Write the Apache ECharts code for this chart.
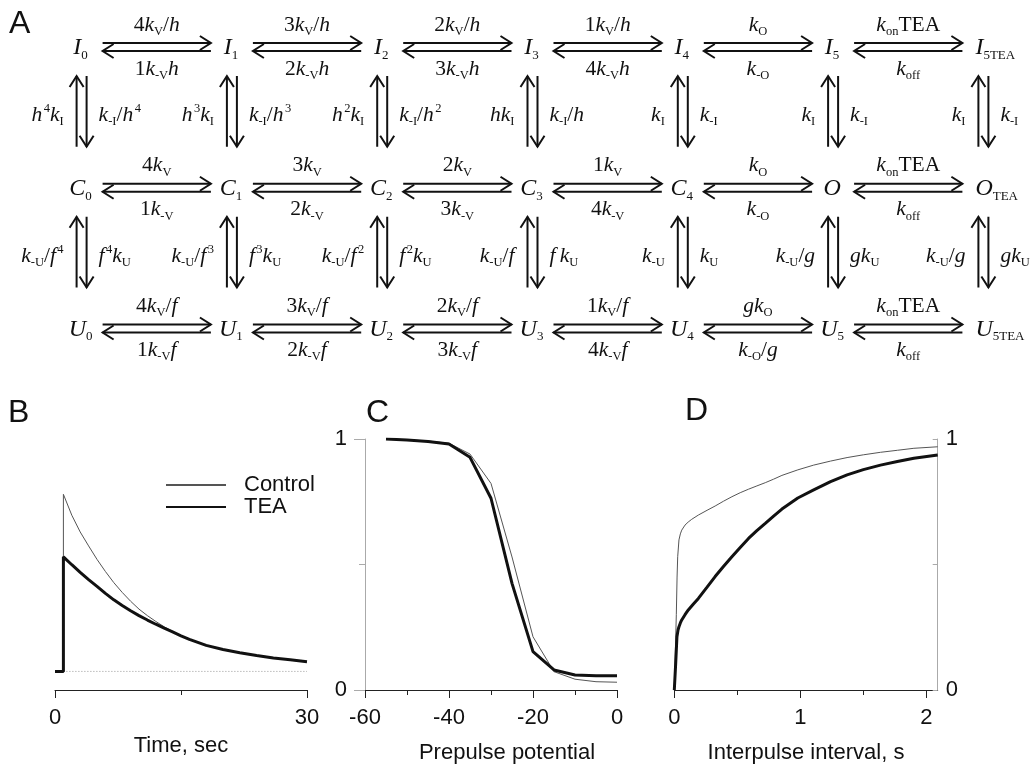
<!DOCTYPE html>
<html>
<head>
<meta charset="utf-8">
<script src="https://cdn.jsdelivr.net/npm/echarts@6.0.0/dist/echarts.min.js"></script>
<style>
html,body{margin:0;padding:0;background:#fff;}
#chart{width:1036px;height:769px;}
</style>
</head>
<body>
<div id="chart"></div>
<script>
// ---------------- Panel A : kinetic scheme (text) ----------------
const stateRows = [
  ['I_0', 'I_1', 'I_2', 'I_3', 'I_4', 'I_5', 'I_{5TEA}'],
  ['C_0', 'C_1', 'C_2', 'C_3', 'C_4', 'O', 'O_{TEA}'],
  ['U_0', 'U_1', 'U_2', 'U_3', 'U_4', 'U_5', 'U_{5TEA}']
];
const forwardRates = [
  ['4k_V/h', '3k_V/h', '2k_V/h', '1k_V/h', 'k_O', 'k_{on}TEA'],
  ['4k_V', '3k_V', '2k_V', '1k_V', 'k_O', 'k_{on}TEA'],
  ['4k_V/f', '3k_V/f', '2k_V/f', '1k_V/f', 'gk_O', 'k_{on}TEA']
];
const backwardRates = [
  ['1k_{-V}h', '2k_{-V}h', '3k_{-V}h', '4k_{-V}h', 'k_{-O}', 'k_{off}'],
  ['1k_{-V}', '2k_{-V}', '3k_{-V}', '4k_{-V}', 'k_{-O}', 'k_{off}'],
  ['1k_{-V}f', '2k_{-V}f', '3k_{-V}f', '4k_{-V}f', 'k_{-O}/g', 'k_{off}']
];
const upRates = [
  ['h^4k_I', 'h^3k_I', 'h^2k_I', 'hk_I', 'k_I', 'k_I', 'k_I'],
  ['k_{-U}/f^4', 'k_{-U}/f^3', 'k_{-U}/f^2', 'k_{-U}/f', 'k_{-U}', 'k_{-U}/g', 'k_{-U}/g']
];
const downRates = [
  ['k_{-I}/h^4', 'k_{-I}/h^3', 'k_{-I}/h^2', 'k_{-I}/h', 'k_{-I}', 'k_{-I}', 'k_{-I}'],
  ['f^4k_U', 'f^3k_U', 'f^2k_U', 'f\u2009k_U', 'k_U', 'gk_U', 'gk_U']
];

// ---------------- Panel B : time course ----------------
const bTime    = [0, 1, 1, 2, 3, 4, 5, 6, 7, 8, 9, 10, 11, 12, 13, 14, 15, 16, 18, 20, 22, 24, 26, 28, 30];
const bControl = [0, 0, 0.762, 0.672, 0.600, 0.540, 0.482, 0.430, 0.382, 0.340, 0.302, 0.268, 0.240, 0.215, 0.192, 0.172, 0.154, 0.138, 0.112, 0.094, 0.080, 0.068, 0.058, 0.050, 0.042];
const bTEA     = [0, 0, 0.493, 0.459, 0.426, 0.395, 0.366, 0.336, 0.308, 0.284, 0.261, 0.240, 0.221, 0.203, 0.186, 0.170, 0.153, 0.138, 0.112, 0.094, 0.080, 0.068, 0.058, 0.050, 0.042];
const bBaselineTime  = [1, 30];
const bBaselineValue = [0, 0];
const bMajorTicks = [0, 30];
const bMinorTicks = [15];

// ---------------- Panel C : prepulse potential ----------------
const cVoltage = [-55, -50, -45, -40, -35, -30, -25, -20, -15, -10, -5, 0];
const cControl = [1.000, 0.997, 0.992, 0.983, 0.940, 0.823, 0.530, 0.212, 0.073, 0.043, 0.033, 0.031];
const cTEA     = [1.000, 0.996, 0.990, 0.980, 0.927, 0.764, 0.425, 0.153, 0.080, 0.060, 0.057, 0.057];
const cMajorTicks = [-60, -40, -20, 0];
const cMinorTicks = [-50, -30, -10];

// ---------------- Panel D : interpulse interval ----------------
const dControlX = [0, 0.016, 0.022, 0.027, 0.037, 0.048, 0.059, 0.085, 0.110, 0.138, 0.191, 0.260, 0.324, 0.390, 0.457, 0.523, 0.589, 0.655, 0.722, 0.788, 0.854, 0.980, 1.106, 1.240, 1.371, 1.500, 1.636, 1.770, 1.901, 2.090];
const dControlY = [0, 0.300, 0.450, 0.531, 0.598, 0.622, 0.637, 0.657, 0.669, 0.680, 0.697, 0.716, 0.733, 0.752, 0.770, 0.786, 0.800, 0.813, 0.826, 0.840, 0.855, 0.877, 0.896, 0.912, 0.926, 0.937, 0.947, 0.955, 0.963, 0.969];
const dTEAX = [0, 0.011, 0.021, 0.030, 0.037, 0.048, 0.059, 0.085, 0.111, 0.150, 0.191, 0.260, 0.324, 0.390, 0.457, 0.523, 0.589, 0.655, 0.722, 0.788, 0.854, 0.980, 1.106, 1.240, 1.371, 1.500, 1.636, 1.770, 1.901, 2.090];
const dTEAY = [0, 0.106, 0.212, 0.240, 0.252, 0.267, 0.279, 0.300, 0.319, 0.342, 0.365, 0.410, 0.452, 0.492, 0.531, 0.568, 0.604, 0.635, 0.664, 0.693, 0.721, 0.765, 0.797, 0.830, 0.857, 0.878, 0.896, 0.910, 0.923, 0.936];
const dMajorTicks = [0, 1, 2];
const dMinorTicks = [0.5, 1.5];

const yMajorTicks = [0, 1];
const yMinorTicks = [0.5];

// ---------------- helpers ----------------
const SANS = '"Liberation Sans", Arial, Helvetica, sans-serif';
const SERIF = '"Liberation Serif", "Times New Roman", serif';
const INK = '#111';
const THIN = '#555';

const ITALIC = 'khfgICUO';
function toRich(s, p) {
  let out = '', i = 0;
  while (i < s.length) {
    const ch = s[i];
    if (ch === '_' || ch === '^') {
      let t;
      if (s[i + 1] === '{') { const j = s.indexOf('}', i); t = s.slice(i + 2, j); i = j + 1; }
      else { t = s[i + 1]; i += 2; }
      out += '{' + p + (ch === '_' ? 'Sb' : 'Sp') + '|' + t + '}';
    } else {
      const it = ITALIC.includes(ch);
      let j = i;
      while (j < s.length && s[j] !== '_' && s[j] !== '^' && ITALIC.includes(s[j]) === it) j++;
      out += '{' + p + (it ? 'It' : 'Rm') + '|' + s.slice(i, j) + '}';
      i = j;
    }
  }
  return out;
}
const rich = {
  rIt: {fontFamily: SERIF, fontStyle: 'italic', fontSize: 21.5, lineHeight: 26, verticalAlign: 'middle', color: INK},
  rRm: {fontFamily: SERIF, fontSize: 21.5, lineHeight: 26, verticalAlign: 'middle', color: INK},
  rSb: {fontFamily: SERIF, fontSize: 12.5, lineHeight: 12, verticalAlign: 'bottom', color: INK},
  rSp: {fontFamily: SERIF, fontSize: 12.5, lineHeight: 16, verticalAlign: 'top', color: INK, padding: [0, 0, 0, 1.5]},
  sIt: {fontFamily: SERIF, fontStyle: 'italic', fontSize: 24, lineHeight: 28, verticalAlign: 'middle', color: INK},
  sRm: {fontFamily: SERIF, fontSize: 24, lineHeight: 28, verticalAlign: 'middle', color: INK},
  sSb: {fontFamily: SERIF, fontSize: 13, lineHeight: 13, verticalAlign: 'bottom', color: INK},
  sSp: {fontFamily: SERIF, fontSize: 13, lineHeight: 18, verticalAlign: 'top', color: INK}
};

// scheme label items (positions are scheme grid indices)
const schemeItems = [];
stateRows.forEach((row, r) => row.forEach((t, c) => schemeItems.push(
  {v: [c, r], text: t, p: 's', align: c === row.length - 1 ? 'left' : 'center', dx: c === row.length - 1 ? -8 : -1, dy: 1})));
forwardRates.forEach((row, r) => row.forEach((t, c) => schemeItems.push(
  {v: [c + 0.5, r], text: t, p: 'r', align: 'center', dx: 0, dy: -22})));
backwardRates.forEach((row, r) => row.forEach((t, c) => schemeItems.push(
  {v: [c + 0.5, r], text: t, p: 'r', align: 'center', dx: 0, dy: 22})));
upRates.forEach((row, r) => row.forEach((t, c) => schemeItems.push(
  {v: [c, r + 0.5], text: t, p: 'r', align: 'right', dx: -18, dy: -2})));
downRates.forEach((row, r) => row.forEach((t, c) => schemeItems.push(
  {v: [c, r + 0.5], text: t, p: 'r', align: 'left', dx: 17, dy: -2})));

const hArrowData = [];
forwardRates.forEach((row, r) => row.forEach((t, c) => hArrowData.push([c, r])));
const vArrowData = [];
upRates.forEach((row, r) => row.forEach((t, c) => vArrowData.push([c, r])));

const arrowStyle = {stroke: '#111', lineWidth: 2, fill: null, lineJoin: 'miter'};

function renderHArrow(params, api) {
  const c = api.value(0), r = api.value(1);
  const a = api.coord([c, r]), b = api.coord([c + 1, r]);
  const x1 = a[0] + 21, x2 = b[0] - 21, yu = a[1] - 4, yl = a[1] + 4;
  return {type: 'group', children: [
    {type: 'line', shape: {x1: x1, y1: yu, x2: x2, y2: yu}, style: arrowStyle},
    {type: 'polyline', shape: {points: [[x2 - 11, yu - 7], [x2, yu], [x2 - 11, yu + 7]]}, style: arrowStyle},
    {type: 'line', shape: {x1: x1, y1: yl, x2: x2, y2: yl}, style: arrowStyle},
    {type: 'polyline', shape: {points: [[x1 + 11, yl - 7], [x1, yl], [x1 + 11, yl + 7]]}, style: arrowStyle}
  ]};
}
function renderVArrow(params, api) {
  const c = api.value(0), r = api.value(1);
  const a = api.coord([c, r]), b = api.coord([c, r + 1]);
  const y1 = a[1] + 29, y2 = b[1] - 41, xu = a[0] - 5, xd = a[0] + 5;
  return {type: 'group', children: [
    {type: 'line', shape: {x1: xu, y1: y1, x2: xu, y2: y2}, style: arrowStyle},
    {type: 'polyline', shape: {points: [[xu - 7, y1 + 11], [xu, y1], [xu + 7, y1 + 11]]}, style: arrowStyle},
    {type: 'line', shape: {x1: xd, y1: y1, x2: xd, y2: y2}, style: arrowStyle},
    {type: 'polyline', shape: {points: [[xd - 7, y2 - 11], [xd, y2], [xd + 7, y2 - 11]]}, style: arrowStyle}
  ]};
}
function renderLabel(params, api) {
  const it = schemeItems[params.dataIndex];
  const p = api.coord([api.value(0), api.value(1)]);
  return {type: 'text', x: p[0] + it.dx, y: p[1] + it.dy,
    style: {text: toRich(it.text, it.p), rich: rich, align: it.align, verticalAlign: 'middle', fill: INK}};
}

const zip = (xs, ys) => xs.map((x, i) => [x, ys[i]]);
const labelFont = {fontFamily: SANS, fontSize: 22, color: INK};

function xAxesFor(grid, min, max, major, minor, name, nameGap, namePad) {
  return [
    {gridIndex: grid, type: 'value', position: 'bottom', min: min, max: max,
     axisLine: {show: true, onZero: false, lineStyle: {color: '#222', width: 1}},
     axisTick: {show: true, customValues: major, length: 8, lineStyle: {color: '#222', width: 1}},
     axisLabel: Object.assign({show: true, customValues: major, margin: 17}, labelFont),
     splitLine: {show: false},
     name: name, nameLocation: 'middle', nameGap: nameGap,
     nameTextStyle: Object.assign({padding: namePad}, labelFont)},
    {gridIndex: grid, type: 'value', position: 'bottom', min: min, max: max,
     axisLine: {show: false, onZero: false}, axisLabel: {show: false}, splitLine: {show: false},
     axisTick: {show: true, customValues: minor, length: 5, lineStyle: {color: '#222', width: 1}}}
  ];
}
function yAxesFor(grid, pos, inside, majorLen, minorLen, margin) {
  return [
    {gridIndex: grid, type: 'value', position: pos, min: 0, max: 1,
     axisLine: {show: true, onZero: false, lineStyle: {color: '#aaa', width: 1}},
     axisTick: {show: true, inside: inside, customValues: yMajorTicks, length: majorLen, lineStyle: {color: '#aaa', width: 1}},
     axisLabel: Object.assign({show: true, customValues: yMajorTicks, margin: margin}, labelFont),
     splitLine: {show: false}},
    {gridIndex: grid, type: 'value', position: pos, min: 0, max: 1,
     axisLine: {show: false, onZero: false}, axisLabel: {show: false}, splitLine: {show: false},
     axisTick: {show: true, inside: inside, customValues: yMinorTicks, length: minorLen, lineStyle: {color: '#aaa', width: 1}}}
  ];
}

const thinLine = {color: THIN, width: 1};
const thickLine = {color: INK, width: 3};
const lineBase = {type: 'line', showSymbol: false, symbol: 'none', silent: true};

const option = {
  animation: false,
  backgroundColor: '#fff',
  title: [
    {text: 'A', left: 9, top: 8, padding: 0, textStyle: {fontFamily: SANS, fontSize: 32, fontWeight: 'normal', color: INK}},
    {text: 'B', left: 8, top: 397, padding: 0, textStyle: {fontFamily: SANS, fontSize: 32, fontWeight: 'normal', color: INK}},
    {text: 'C', left: 366, top: 397, padding: 0, textStyle: {fontFamily: SANS, fontSize: 32, fontWeight: 'normal', color: INK}},
    {text: 'D', left: 685, top: 395, padding: 0, textStyle: {fontFamily: SANS, fontSize: 32, fontWeight: 'normal', color: INK}}
  ],
  legend: {
    data: ['Control', 'TEA'], left: 165, top: 474, orient: 'vertical', selectedMode: false,
    itemWidth: 60, itemHeight: 10, itemGap: 0, padding: 0,
    itemStyle: {opacity: 0, borderWidth: 0},
    textStyle: {fontFamily: SANS, fontSize: 22, color: INK, lineHeight: 19, padding: [0, 0, 0, 13]}
  },
  grid: [
    {left: 81.6, right: 52.6, top: 47, height: 281.5},
    {left: 55, width: 252, top: 439, height: 251},
    {left: 365, width: 252, top: 439, height: 251},
    {left: 674.3, width: 263.4, top: 439, height: 251}
  ],
  xAxis: [
    {gridIndex: 0, type: 'value', min: 0, max: 6, show: false},
    ...xAxesFor(1, 0, 30, bMajorTicks, bMinorTicks, 'Time, sec', 45, [0, 0, 0, 0]),
    ...xAxesFor(2, -60, 0, cMajorTicks, cMinorTicks, 'Prepulse potential', 52, [0, 0, 0, 32]),
    ...xAxesFor(3, 0, 2.09, dMajorTicks, dMinorTicks, 'Interpulse interval, s', 52, [0, 0, 0, 0])
  ],
  yAxis: [
    {gridIndex: 0, type: 'value', min: 0, max: 2, inverse: true, show: false},
    {gridIndex: 1, type: 'value', min: -0.08, max: 1, show: false},
    ...yAxesFor(2, 'left', false, 11, 6, 18),
    ...yAxesFor(3, 'right', true, 5, 5, 8)
  ],
  series: [
    {type: 'custom', name: 'hArrows', xAxisIndex: 0, yAxisIndex: 0, data: hArrowData, renderItem: renderHArrow, silent: true},
    {type: 'custom', name: 'vArrows', xAxisIndex: 0, yAxisIndex: 0, data: vArrowData, renderItem: renderVArrow, silent: true},
    {type: 'custom', name: 'labels', xAxisIndex: 0, yAxisIndex: 0, data: schemeItems.map(d => d.v), renderItem: renderLabel, silent: true},

    Object.assign({}, lineBase, {name: 'baseline', xAxisIndex: 1, yAxisIndex: 1, data: zip(bBaselineTime, bBaselineValue),
      color: '#999', lineStyle: {color: '#999', width: 1, type: [1, 2]}}),
    Object.assign({}, lineBase, {name: 'Control', xAxisIndex: 1, yAxisIndex: 1, data: zip(bTime, bControl), color: THIN, lineStyle: thinLine}),
    Object.assign({}, lineBase, {name: 'TEA', xAxisIndex: 1, yAxisIndex: 1, data: zip(bTime, bTEA), color: INK, lineStyle: thickLine}),

    Object.assign({}, lineBase, {name: 'Control', xAxisIndex: 3, yAxisIndex: 2, data: zip(cVoltage, cControl), color: THIN, lineStyle: thinLine}),
    Object.assign({}, lineBase, {name: 'TEA', xAxisIndex: 3, yAxisIndex: 2, data: zip(cVoltage, cTEA), color: INK, lineStyle: thickLine}),

    Object.assign({}, lineBase, {name: 'Control', xAxisIndex: 5, yAxisIndex: 4, data: zip(dControlX, dControlY), color: THIN, lineStyle: thinLine}),
    Object.assign({}, lineBase, {name: 'TEA', xAxisIndex: 5, yAxisIndex: 4, data: zip(dTEAX, dTEAY), color: INK, lineStyle: thickLine})
  ]
};

const chart = echarts.init(document.getElementById('chart'), null, {renderer: 'canvas'});
chart.setOption(option);
</script>
</body>
</html>
